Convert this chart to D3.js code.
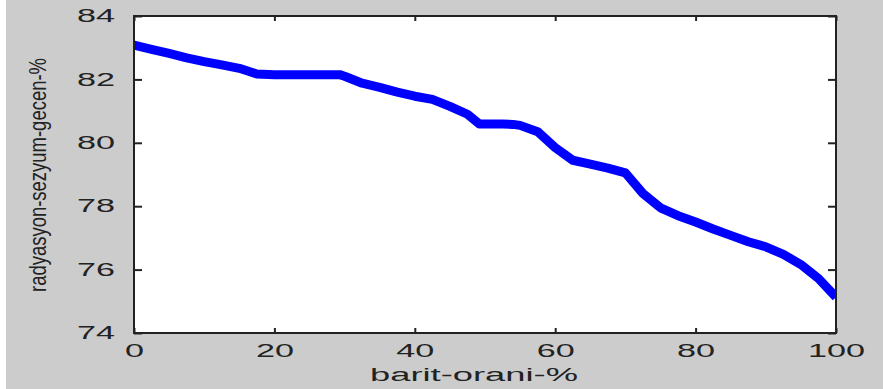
<!DOCTYPE html>
<html>
<head>
<meta charset="utf-8">
<script src="https://cdn.jsdelivr.net/npm/d3@7"></script>
<style>
  body { margin: 0; background: #ffffff; }
  text { font-family: "Liberation Sans", Arial, sans-serif; fill: #222; }
</style>
</head>
<body>
<script>
var bariteRatio = [0, 2.5, 5, 7.5, 10, 12.5, 15, 17.5, 20, 22.5, 25, 27.5, 29.3, 30, 32.5, 35, 37.5, 40, 42.5, 45, 47.5, 49.2, 52.5, 54, 55, 57.5, 60, 62.5, 65, 67.5, 70, 72.5, 75, 77.5, 80, 82.5, 85, 87.5, 90, 92.5, 95, 97.5, 100];
var radiationPassed = [83.08, 82.95, 82.82, 82.68, 82.56, 82.46, 82.35, 82.17, 82.15, 82.15, 82.15, 82.15, 82.15, 82.1, 81.88, 81.75, 81.6, 81.47, 81.37, 81.15, 80.9, 80.59, 80.59, 80.58, 80.55, 80.35, 79.85, 79.45, 79.33, 79.2, 79.05, 78.4, 77.95, 77.7, 77.5, 77.28, 77.08, 76.88, 76.72, 76.48, 76.16, 75.72, 75.13];
var xTicks = [0, 20, 40, 60, 80, 100];
var yTicks = [74, 76, 78, 80, 82, 84];

drawChart();

function drawChart(){
    var W = 883, H = 389;
    var pL = 134, pR = 836, pT = 16, pB = 333;

    var svg = d3.select("body").append("svg")
        .attr("width", W)
        .attr("height", H);

    svg.append("rect").attr("x", 6).attr("y", 0).attr("width", W - 6).attr("height", H).attr("fill", "#cccccc");
    svg.append("rect").attr("x", pL).attr("y", pT).attr("width", pR - pL).attr("height", pB - pT).attr("fill", "#ffffff");

    var x = d3.scaleLinear().domain([0, 100]).range([pL, pR]);
    var y = d3.scaleLinear().domain([74, 84]).range([pB, pT]);

    svg.append("clipPath").attr("id", "plotclip")
        .append("rect").attr("x", pL).attr("y", pT).attr("width", pR - pL).attr("height", pB - pT);

    var pts = bariteRatio.map(function(d, i){ return [d, radiationPassed[i]]; });

    var line = d3.line()
        .x(function(d){ return x(d[0]); })
        .y(function(d){ return y(d[1]); });

    svg.append("path")
        .datum(pts)
        .attr("clip-path", "url(#plotclip)")
        .attr("d", line)
        .attr("fill", "none")
        .attr("stroke", "#0000ff")
        .attr("stroke-width", 9)
        .attr("stroke-linejoin", "round");

    // bottom axis with labels
    var gx = svg.append("g").attr("transform", "translate(0," + pB + ")")
        .call(d3.axisBottom(x).tickValues(xTicks).tickSize(-5).tickSizeOuter(0));
    gx.select(".domain").remove();
    gx.selectAll("line").attr("stroke", "#222").attr("stroke-width", 2);
    gx.selectAll("text")
        .attr("y", null).attr("dy", null)
        .attr("transform", "translate(0,24) scale(1.9,1)")
        .style("font-size", "18px").attr("fill", "#222");

    // top axis, ticks only
    var gt = svg.append("g").attr("transform", "translate(0," + pT + ")")
        .call(d3.axisTop(x).tickValues(xTicks).tickSize(-5).tickSizeOuter(0).tickFormat(""));
    gt.select(".domain").remove();
    gt.selectAll("line").attr("stroke", "#222").attr("stroke-width", 2);

    // left axis with labels
    var gy = svg.append("g").attr("transform", "translate(" + pL + ",0)")
        .call(d3.axisLeft(y).tickValues(yTicks).tickSize(-8).tickSizeOuter(0));
    gy.select(".domain").remove();
    gy.selectAll("line").attr("stroke", "#222").attr("stroke-width", 2);
    gy.selectAll("text")
        .attr("x", null)
        .attr("transform", "translate(-19,0) scale(1.9,1)")
        .style("font-size", "18px").attr("fill", "#222");

    // right axis, ticks only
    var gr = svg.append("g").attr("transform", "translate(" + pR + ",0)")
        .call(d3.axisRight(y).tickValues(yTicks).tickSize(-8).tickSizeOuter(0).tickFormat(""));
    gr.select(".domain").remove();
    gr.selectAll("line").attr("stroke", "#222").attr("stroke-width", 2);

    // box
    svg.append("rect").attr("x", pL).attr("y", pT).attr("width", pR - pL).attr("height", pB - pT)
        .attr("fill", "none").attr("stroke", "#222").attr("stroke-width", 2);

    // axis titles
    svg.append("text")
        .attr("x", 474).attr("y", 381)
        .attr("text-anchor", "middle")
        .attr("textLength", 208).attr("lengthAdjust", "spacingAndGlyphs")
        .style("font-size", "18px")
        .text("barit-orani-%");

    svg.append("text")
        .attr("transform", "translate(46,175) rotate(-90) scale(1,1.3)")
        .attr("text-anchor", "middle")
        .attr("textLength", 234).attr("lengthAdjust", "spacingAndGlyphs")
        .style("font-size", "18px")
        .text("radyasyon-sezyum-gecen-%");
}
</script>
</body>
</html>
